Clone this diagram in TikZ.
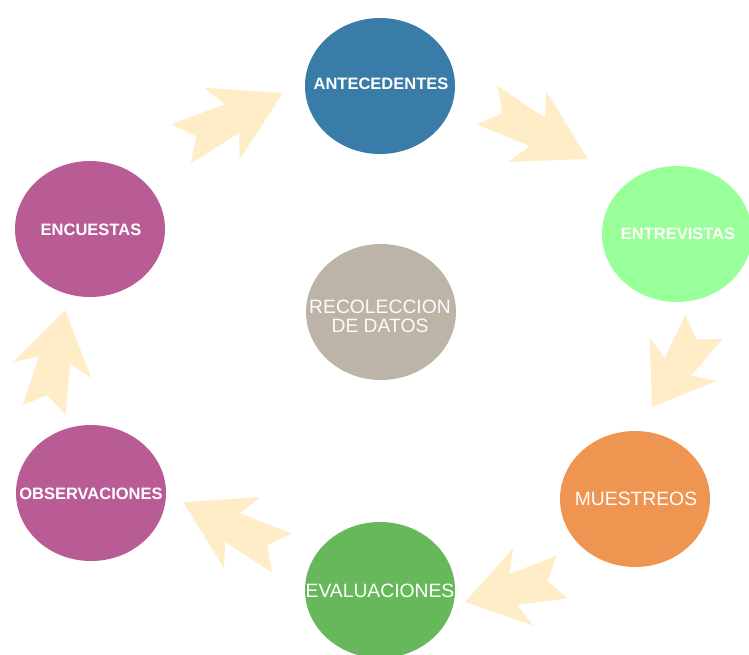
\documentclass[tikz,border=0pt]{standalone}
\usepackage{fontspec}
\setmainfont{Liberation Sans}
\usetikzlibrary{shapes.geometric,calc}
\definecolor{cblue}{HTML}{3A7CA8}
\definecolor{clgreen}{HTML}{99FF99}
\definecolor{corange}{HTML}{EE9552}
\definecolor{cgreen}{HTML}{66B85A}
\definecolor{cmag}{HTML}{B95C96}
\definecolor{cgrey}{HTML}{BDB4A8}
\definecolor{arrowc}{HTML}{FFEDC8}
\tikzset{
  blob/.style={ellipse, minimum width=150pt, minimum height=136pt, inner sep=0pt, draw=none},
  lab/.style={text=white, font=\bfseries\fontsize{16.5}{18}\selectfont, inner sep=0pt},
  labbig/.style={text=white, font=\fontsize{19.3}{19}\selectfont, inner sep=0pt, align=center},
  arrowfill/.style={fill=arrowc, draw=none}
}
\newcommand\fatarrow[2]{%
  \fill[arrowfill] ($(#2)$)
    -- ($(#1)!0.40!(#2)!40pt!90:(#2)$)
    -- ($(#1)!0.50!(#2)!16pt!90:(#2)$)
    -- ($(#1)!22pt!90:(#2)$)
    -- ($(#1)!0.15!(#2)$)
    -- ($(#1)!22pt!-90:(#2)$)
    -- ($(#1)!0.50!(#2)!16pt!-90:(#2)$)
    -- ($(#1)!0.40!(#2)!40pt!-90:(#2)$)
    -- cycle;}
\begin{document}
\begin{tikzpicture}[x=1pt,y=-1pt]
\useasboundingbox (0,0) rectangle (749,654);
% arrow end points
\coordinate (a1s) at (181,144); \coordinate (a1e) at (283,93);
\coordinate (a2s) at (487,105); \coordinate (a2e) at (588,159);
\coordinate (a3s) at (704,327); \coordinate (a3e) at (652,407);
\coordinate (a4s) at (562,577); \coordinate (a4e) at (465,602);
\coordinate (a5s) at (282,553); \coordinate (a5e) at (183,502);
\coordinate (a6s) at (44,410);  \coordinate (a6e) at (65,310);
\fatarrow{a1s}{a1e}
\fatarrow{a2s}{a2e}
\fatarrow{a3s}{a3e}
\fatarrow{a4s}{a4e}
\fatarrow{a5s}{a5e}
\fatarrow{a6s}{a6e}
% circles
\node[blob, fill=cblue]   (ant) at (380,86)  {};
\node[blob, fill=clgreen] (ent) at (677,234) {};
\node[blob, fill=corange] (mue) at (635,499) {};
\node[blob, fill=cgreen]  (eva) at (380,590) {};
\node[blob, fill=cmag]    (obs) at (91,493)  {};
\node[blob, fill=cmag]    (enc) at (90,229)  {};
\node[blob, fill=cgrey]   (rec) at (381,312) {};
% labels
\node[lab]    (tant) at (381,84)  {ANTECEDENTES};
\node[lab]    (tent) at (678,234) {ENTREVISTAS};
\node[labbig] (tmue) at (636,499) {MUESTREOS};
\node[labbig] (teva) at (380,591) {EVALUACIONES};
\node[lab]    (tobs) at (91,494)  {OBSERVACIONES};
\node[lab]    (tenc) at (91,230)  {ENCUESTAS};
\node[labbig, text=white!95!cgrey] (trec) at (380,316) {RECOLECCION\\DE DATOS};
\end{tikzpicture}
\end{document}
